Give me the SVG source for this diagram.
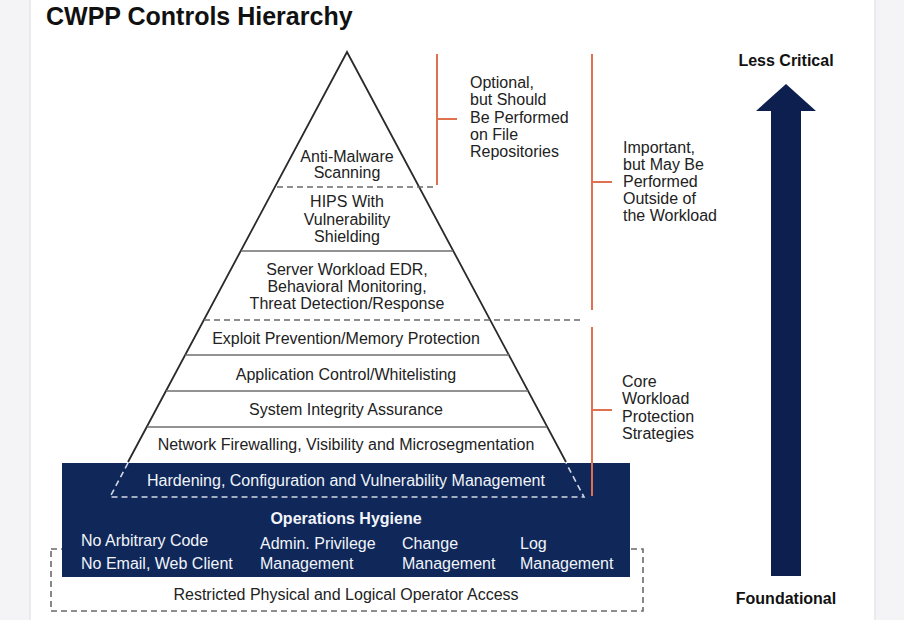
<svg xmlns="http://www.w3.org/2000/svg" width="904" height="620" viewBox="0 0 904 620">
<style>
text{font-family:"Liberation Sans",Arial,sans-serif;}
.t{font-size:16px;fill:#222;text-anchor:middle;}
.tl{font-size:16px;fill:#222;}
.w{font-size:16px;fill:#f2f4fa;}
.wc{font-size:16px;fill:#f2f4fa;text-anchor:middle;}
.b{font-weight:bold;}
.sep{stroke:#6e6e6e;stroke-width:1.6;fill:none;}
.dash{stroke:#6a6a6a;stroke-width:1.6;stroke-dasharray:6 4;fill:none;}
.wdash{stroke:#d4d8e4;stroke-width:1.6;stroke-dasharray:6 4;fill:none;}
.br{stroke:#e0714f;stroke-width:2;fill:none;}
</style>
<rect x="0" y="0" width="904" height="620" fill="#f4f4f6"/>
<rect x="30" y="-2" width="845" height="624" fill="#ffffff" stroke="#e6e6e9" stroke-width="1.5"/>
<text x="46" y="25" class="b" style="font-size:25px;fill:#111;">CWPP Controls Hierarchy</text>

<g id="pyramid">
<path d="M128,462 L347,52 L566,462" fill="#ffffff" stroke="#2a2a2a" stroke-width="1.8"/>
</g>

<g id="dashed-access-box">
<rect x="51" y="549" width="592" height="62" class="dash" stroke="#444"/>
</g>

<g id="operations-hygiene">
<rect x="62" y="463" width="568" height="114" fill="#0f2859"/>
<path d="M128,463 L110,497 L584,497 L566,463" class="wdash"/>
</g>

<g id="connectors">
<line x1="277" y1="187" x2="434" y2="187" class="dash"/>
<line x1="241" y1="251" x2="453" y2="251" class="sep"/>
<line x1="204" y1="320" x2="583" y2="320" class="dash"/>
<line x1="185" y1="355" x2="509" y2="355" class="sep"/>
<line x1="166" y1="391" x2="528" y2="391" class="sep"/>
<line x1="147" y1="427" x2="547" y2="427" class="sep"/>
</g>

<g id="brackets">
<path d="M437,54 V185 M437,119 H457" class="br"/>
<path d="M592,54 V310 M592,182 H612" class="br"/>
<path d="M592,327 V496 M592,410 H612" class="br"/>
</g>

<g id="anti-malware">
<text class="t" x="347" y="162">Anti-Malware</text>
<text class="t" x="347" y="178">Scanning</text>
</g>
<g id="hips">
<text class="t" x="347" y="207">HIPS With</text>
<text class="t" x="347" y="225">Vulnerability</text>
<text class="t" x="347" y="242">Shielding</text>
</g>
<g id="edr">
<text class="t" x="347" y="275">Server Workload EDR,</text>
<text class="t" x="347" y="292">Behavioral Monitoring,</text>
<text class="t" x="347" y="309">Threat Detection/Response</text>
</g>
<g id="exploit-prevention">
<text class="t" x="346" y="344">Exploit Prevention/Memory Protection</text>
</g>
<g id="application-control">
<text class="t" x="346" y="380">Application Control/Whitelisting</text>
</g>
<g id="system-integrity">
<text class="t" x="346" y="415">System Integrity Assurance</text>
</g>
<g id="network-firewalling">
<text class="t" x="346" y="450">Network Firewalling, Visibility and Microsegmentation</text>
</g>
<g id="hardening">
<text class="wc" x="346" y="486">Hardening, Configuration and Vulnerability Management</text>
</g>
<g id="ops-hygiene-text">
<text class="wc b" x="346" y="524">Operations Hygiene</text>
<text class="w" x="81" y="546">No Arbitrary Code</text>
<text class="w" x="81" y="569">No Email, Web Client</text>
<text class="w" x="260" y="549">Admin. Privilege</text>
<text class="w" x="260" y="569">Management</text>
<text class="w" x="402" y="549">Change</text>
<text class="w" x="402" y="569">Management</text>
<text class="w" x="520" y="549">Log</text>
<text class="w" x="520" y="569">Management</text>
</g>
<g id="restricted-access">
<text class="t" x="346" y="600">Restricted Physical and Logical Operator Access</text>
</g>

<g id="label-optional">
<text class="tl" x="470" y="88">Optional,</text>
<text class="tl" x="470" y="105">but Should</text>
<text class="tl" x="470" y="123">Be Performed</text>
<text class="tl" x="470" y="140">on File</text>
<text class="tl" x="470" y="157">Repositories</text>
</g>
<g id="label-important">
<text class="tl" x="623" y="153">Important,</text>
<text class="tl" x="623" y="170">but May Be</text>
<text class="tl" x="623" y="187">Performed</text>
<text class="tl" x="623" y="204">Outside of</text>
<text class="tl" x="623" y="221">the Workload</text>
</g>
<g id="label-core">
<text class="tl" x="622" y="387">Core</text>
<text class="tl" x="622" y="404">Workload</text>
<text class="tl" x="622" y="422">Protection</text>
<text class="tl" x="622" y="439">Strategies</text>
</g>

<g id="criticality-arrow">
<text class="t b" x="786" y="66" style="fill:#111;">Less Critical</text>
<path d="M786,84 L816,111 L801,111 L801,576 L771,576 L771,111 L756,111 Z" fill="#0d1f4e"/>
<text class="t b" x="786" y="604" style="fill:#111;">Foundational</text>
</g>
</svg>
